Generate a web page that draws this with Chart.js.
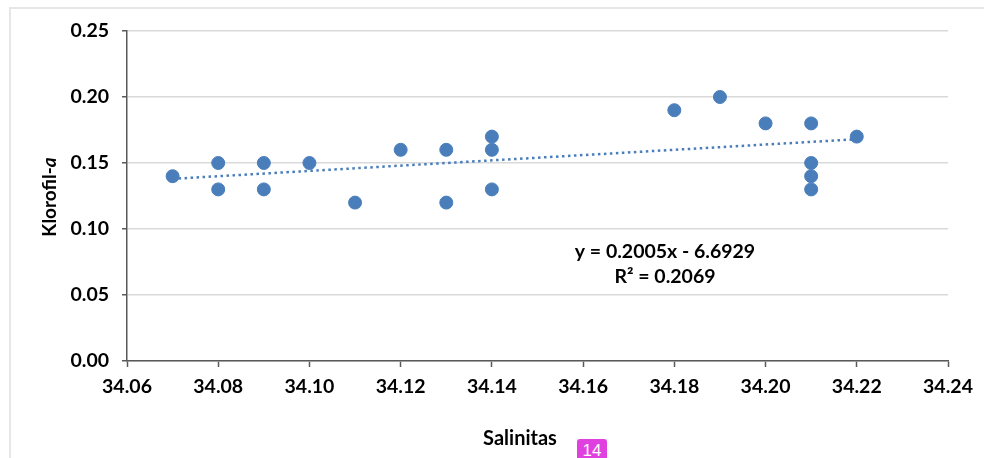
<!DOCTYPE html>
<html>
<head>
<meta charset="utf-8">
<script src="https://cdn.jsdelivr.net/npm/chart.js@4.4.1/dist/chart.umd.min.js"></script>
<style>
  html, body { margin: 0; padding: 0; background: #fff; overflow: hidden; }
  #wrap { position: relative; width: 984px; height: 458px; }
  #frame { position: absolute; left: 9px; top: 7px; width: 1000px; height: 500px;
           border-top: 2px solid #e6e6e6; border-left: 2px solid #e6e6e6; }
  canvas { position: absolute; left: 0; top: 0; }
  #badge { position: absolute; left: 577px; top: 439px; width: 30px; height: 22px;
           background: #e040e0; color: #fff; font: 17px "Liberation Sans", Arial, sans-serif;
           text-align: center; line-height: 24px; border-radius: 3px 3px 0 0; }
</style>
</head>
<body>
<div id="wrap">
  <div id="frame"></div>
  <canvas id="c" width="984" height="458"></canvas>
  <div id="badge">14</div>
</div>
<script>
// Data
const salinitas = [34.07, 34.08, 34.08, 34.09, 34.09, 34.10, 34.11, 34.12, 34.13, 34.13,
                   34.14, 34.14, 34.14, 34.18, 34.19, 34.20, 34.21, 34.21, 34.21, 34.21, 34.22];
const klorofil  = [0.14, 0.15, 0.13, 0.15, 0.13, 0.15, 0.12, 0.16, 0.16, 0.12,
                   0.17, 0.16, 0.13, 0.19, 0.20, 0.18, 0.18, 0.15, 0.14, 0.13, 0.17];
const trendX = [34.07, 34.22];
const trendY = [0.138, 0.168];
const xTicks = [34.06, 34.08, 34.10, 34.12, 34.14, 34.16, 34.18, 34.20, 34.22, 34.24];
const yTicks = [0.00, 0.05, 0.10, 0.15, 0.20, 0.25];
const equationText = "y = 0.2005x - 6.6929";
const r2Text = "R² = 0.2069";
const xTitle = "Salinitas";
const yTitleMain = "Klorofil-";
const yTitleItalic = "a";

const FONT = "Lato, 'Liberation Sans', sans-serif";
const BLUE = "#4a7ebb";
const AXIS = "#595959";

const scatterData = salinitas.map((x, i) => ({ x: x, y: klorofil[i] }));
const trendData = trendX.map((x, i) => ({ x: x, y: trendY[i] }));

const textPlugin = {
  id: 'texts',
  afterDraw(chart) {
    const ctx = chart.ctx;
    ctx.save();
    ctx.fillStyle = "#000";
    ctx.textAlign = "center";
    ctx.textBaseline = "middle";
    ctx.font = "bold 19.5px " + FONT;
    ctx.fillText(equationText, 665, 252);
    ctx.fillText(r2Text, 665, 277);
    ctx.font = "bold 20px " + FONT;
    ctx.fillText(xTitle, 520, 439);
    // rotated y title with italic a
    ctx.translate(50, 197);
    ctx.rotate(-Math.PI / 2);
    ctx.font = "bold 19px " + FONT;
    const w1 = ctx.measureText(yTitleMain).width;
    ctx.font = "italic bold 19px " + FONT;
    const w2 = ctx.measureText(yTitleItalic).width;
    const start = -(w1 + w2) / 2;
    ctx.textAlign = "left";
    ctx.font = "bold 19px " + FONT;
    ctx.fillText(yTitleMain, start, 0);
    ctx.font = "italic bold 19px " + FONT;
    ctx.fillText(yTitleItalic, start + w1, 0);
    ctx.restore();
  }
};

new Chart(document.getElementById('c'), {
  type: 'scatter',
  data: {
    datasets: [
      {
        type: 'line',
        data: trendData,
        borderColor: BLUE,
        borderWidth: 2.5,
        borderDash: [2.5, 3.5],
        pointRadius: 0,
        fill: false,
        order: 2
      },
      {
        data: scatterData,
        backgroundColor: BLUE,
        borderColor: BLUE,
        pointRadius: 6.5,
        pointHoverRadius: 6.5,
        order: 1
      }
    ]
  },
  options: {
    responsive: false,
    animation: false,
    events: [],
    layout: { padding: { left: 0, right: 36, top: 31, bottom: 0 } },
    plugins: { legend: { display: false }, tooltip: { enabled: false } },
    scales: {
      x: {
        type: 'linear',
        min: 34.06, max: 34.24,
        afterBuildTicks(scale) { scale.ticks = xTicks.map(v => ({ value: v })); },
        afterFit(scale) { scale.height = 97; },
        grid: { drawOnChartArea: false, drawTicks: true, tickLength: 6, tickColor: AXIS, tickWidth: 1.5 },
        border: { color: AXIS, width: 1.5 },
        ticks: {
          color: "#000",
          padding: 8,
          maxRotation: 0,
          font: { family: FONT, size: 19.5, weight: 'bold' },
          callback: v => v.toFixed(2)
        }
      },
      y: {
        type: 'linear',
        min: 0, max: 0.25,
        afterBuildTicks(scale) { scale.ticks = yTicks.map(v => ({ value: v })); },
        afterFit(scale) { scale.width = 127; },
        grid: { color: "#d9d9d9", lineWidth: 1.5, drawTicks: true, tickLength: 5, tickColor: AXIS, tickWidth: 1.5 },
        border: { color: AXIS, width: 1.5 },
        ticks: {
          color: "#000",
          padding: 13,
          font: { family: FONT, size: 19.5, weight: 'bold' },
          callback: v => v.toFixed(2)
        }
      }
    }
  },
  plugins: [textPlugin]
});
</script>
</body>
</html>
